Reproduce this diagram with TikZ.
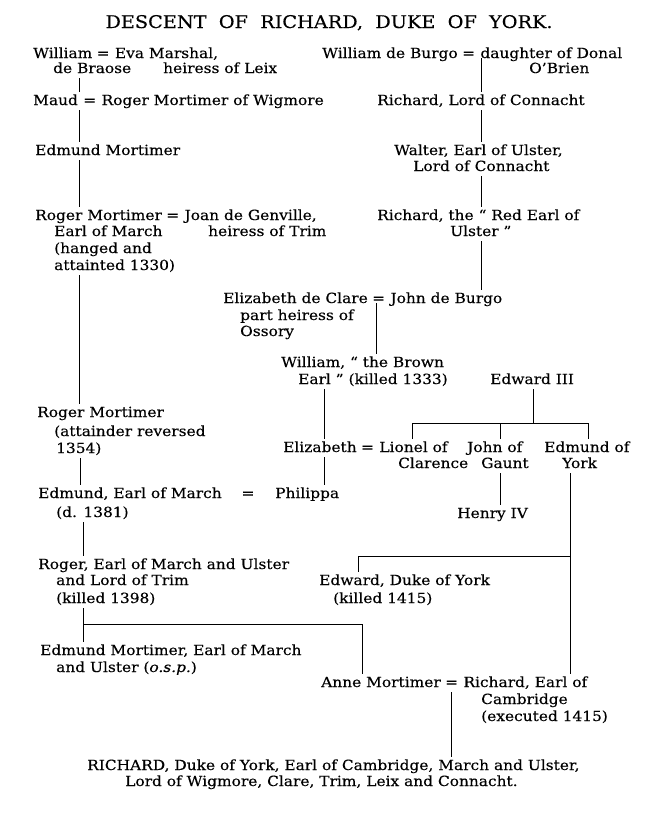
\documentclass[tikz,border=0pt]{standalone}
\usepackage{fontspec}
\setmainfont{DejaVu Serif}[FakeStretch=1.1, FakeBold=0.3]
\usetikzlibrary{calc,positioning}
\tikzset{
  person/.style={ % one printed line of a name
    anchor=base west, inner xsep=0pt, inner ysep=2pt,
    text height=11pt, text depth=3pt,
    font=\fontsize{14}{16}\selectfont
  },
  marr/.style={ % the marriage sign
    anchor=base, inner sep=0pt, text depth=0pt,
    font=\fontsize{14}{16}\selectfont
  },
  descent/.style={ % line of descent
    line width=0.7pt
  }
}

\begin{document}
\begin{tikzpicture}[x=1pt, y=-1pt]
  \useasboundingbox (0,0) rectangle (653,815);
  \fill[white] (0,0) rectangle (653,815);

  \node (title) [anchor=base, font=\fontsize{17.5}{20}\selectfont] at (329,28) {DESCENT\ \ OF\ \ RICHARD,\ \ DUKE\ \ OF\ \ YORK.};

  % Braose and Mortimer
  \node[person] (w_braose) at (33,58) {William};
  \node[marr, base right=4pt of w_braose] (e_braose) {=};
  \node[person, base right=5pt of e_braose] (eva) {Eva Marshal,};
  \node[person] (de_braose) at (53,73) {de Braose};
  \node[person] (eva_leix) at (163,73) {heiress of Leix};
  \node[person] (maud) at (33,105) {Maud};
  \node[marr, base right=5pt of maud] (e_maud) {=};
  \node[person, base right=5pt of e_maud] (roger_w) {Roger Mortimer of Wigmore};
  \node[person] (edmund_m) at (35,155) {Edmund Mortimer};
  \node[person] (roger_1) at (35,220) {Roger Mortimer};
  \node[marr, base right=4pt of roger_1] (e_roger) {=};
  \node[person, base right=5pt of e_roger] (joan) {Joan de Genville,};
  \node[person] (roger_1b) at (54,236) {Earl of March};
  \node[person] (joan_b) at (208,236) {heiress of Trim};
  \node[person] (roger_1c) at (54,253) {(hanged and};
  \node[person] (roger_1d) at (54,270) {attainted 1330)};
  \node[person] (roger_2) at (37,417) {Roger Mortimer};
  \node[person] (roger_2b) at (54,436) {(attainder reversed};
  \node[person] (roger_2c) at (56,453) {1354)};
  \node[person] (edmund_e) at (38,498) {Edmund, Earl of March};
  \node[marr] (e_edmund) at (248,498) {=};
  \node[person] (philippa) at (275,498) {Philippa};
  \node[person] (edmund_eb) at (56,517) {(d. 1381)};
  \node[person] (roger_3) at (38,569) {Roger, Earl of March and Ulster};
  \node[person] (roger_3b) at (56,585) {and Lord of Trim};
  \node[person] (roger_3c) at (56,603) {(killed 1398)};
  \node[person] (edmund_o) at (40,655) {Edmund Mortimer, Earl of March};
  \node[person] (edmund_ob) at (56,672) {and Ulster (\textit{o.s.p.})};

  % de Burgo and the king
  \node[person] (w_burgo) at (322,58) {William de Burgo};
  \node[marr, base right=4pt of w_burgo] (e_burgo) {=};
  \node[person, base right=5pt of e_burgo] (donal) {daughter of Donal};
  \node[person] (donal_b) at (529,73) {O’Brien};
  \node[person] (richard_c) at (377,105) {Richard, Lord of Connacht};
  \node[person] (walter) at (394,155) {Walter, Earl of Ulster,};
  \node[person] (walter_b) at (413,171) {Lord of Connacht};
  \node[person] (richard_r) at (377,220) {Richard, the “ Red Earl of};
  \node[person] (richard_rb) at (450,236) {Ulster ”};
  \node[person] (eliz_clare) at (223,303) {Elizabeth de Clare};
  \node[marr, base right=4pt of eliz_clare] (e_clare) {=};
  \node[person, base right=5pt of e_clare] (john_b) {John de Burgo};
  \node[person] (eliz_clare_b) at (240,320) {part heiress of};
  \node[person] (eliz_clare_c) at (240,336) {Ossory};
  \node[person] (w_brown) at (281,367) {William, “ the Brown};
  \node[person] (w_brown_b) at (298,384) {Earl ” (killed 1333)};
  \node[person] (edward3) at (490,384) {Edward III};
  \node[person] (eliz) at (283,452) {Elizabeth};
  \node[marr, base right=4pt of eliz] (e_eliz) {=};
  \node[person, base right=5pt of e_eliz] (lionel) {Lionel of};
  \node[person] (lionel_b) at (398,468) {Clarence};
  \node[person] (john_g) at (467,452) {John of};
  \node[person] (john_gb) at (481,468) {Gaunt};
  \node[person] (edmund_y) at (544,452) {Edmund of};
  \node[person] (edmund_yb) at (562,468) {York};
  \node[person] (henry4) at (457,518) {Henry IV};
  \node[person] (edward_y) at (319,585) {Edward, Duke of York};
  \node[person] (edward_yb) at (333,603) {(killed 1415)};
  \node[person] (anne) at (321,687) {Anne Mortimer};
  \node[marr, base right=4pt of anne] (e_anne) {=};
  \node[person, base right=5pt of e_anne] (richard_e) {Richard, Earl of};
  \node[person] (richard_eb) at (481,704) {Cambridge};
  \node[person] (richard_ec) at (481,721) {(executed 1415)};
  \node[person] (richard_y) at (87,770) {RICHARD, Duke of York, Earl of Cambridge, March and Ulster,};
  \node[person] (richard_yb) at (125,786) {Lord of Wigmore, Clare, Trim, Leix and Connacht.};

  % columns and bars of the lines
  \coordinate (c_mort) at (79,0);
  \coordinate (c_mort2) at (80,0);
  \coordinate (c_mort3) at (83,0);
  \coordinate (c_burgo) at (481,0);
  \coordinate (c_clare) at (376,0);
  \coordinate (c_eliz) at (324,0);
  \coordinate (c_edw) at (533,0);
  \coordinate (c_lionel) at (412,0);
  \coordinate (c_gaunt) at (500,0);
  \coordinate (c_edmy) at (588,0);
  \coordinate (c_york) at (570,0);
  \coordinate (c_edwy) at (358,0);
  \coordinate (c_anne) at (362,0);
  \coordinate (c_rich) at (451,0);
  \coordinate (bar_e3) at (0,423);
  \coordinate (bar_york) at (0,556);
  \coordinate (bar_roger) at (0,624);

  \draw[descent] (de_braose.south -| c_mort) -- (maud.north -| c_mort);
  \draw[descent] (maud.south -| c_mort) -- (edmund_m.north -| c_mort);
  \draw[descent] (edmund_m.south -| c_mort) -- (roger_1.north -| c_mort);
  \draw[descent] (roger_1d.south -| c_mort) -- (roger_2.north -| c_mort);
  \draw[descent] (roger_2c.south -| c_mort2) -- (edmund_e.north -| c_mort2);
  \draw[descent] (edmund_eb.south -| c_mort3) -- (roger_3.north -| c_mort3);
  \draw[descent] (roger_3c.south -| c_mort3) -- (bar_roger -| c_mort3) -- (bar_roger -| c_anne) -- (anne.north -| c_anne);
  \draw[descent] (bar_roger -| c_mort3) -- (edmund_o.north -| c_mort3);

  \draw[descent] (e_burgo.south -| c_burgo) -- (richard_c.north -| c_burgo);
  \draw[descent] (richard_c.south -| c_burgo) -- (walter.north -| c_burgo);
  \draw[descent] (walter_b.south -| c_burgo) -- (richard_r.north -| c_burgo);
  \draw[descent] (richard_rb.south -| c_burgo) -- (john_b.north -| c_burgo);
  \draw[descent] (e_clare.south -| c_clare) -- (w_brown.north -| c_clare);
  \draw[descent] (w_brown_b.south -| c_eliz) -- (eliz.north -| c_eliz);
  \draw[descent] (edward3.south -| c_edw) -- (bar_e3 -| c_edw);
  \draw[descent] (bar_e3 -| c_lionel) -- (bar_e3 -| c_edmy);
  \foreach \c/\n in {c_lionel/lionel, c_gaunt/john_g, c_edmy/edmund_y}
    \draw[descent] (bar_e3 -| \c) -- (\n.north -| \c);
  \draw[descent] (eliz.south -| c_eliz) -- (philippa.north -| c_eliz);
  \draw[descent] (john_gb.south -| c_gaunt) -- (henry4.north -| c_gaunt);
  \draw[descent] (edmund_yb.south -| c_york) -- (richard_e.north -| c_york);
  \draw[descent] (bar_york -| c_edwy) -- (bar_york -| c_york);
  \draw[descent] (bar_york -| c_edwy) -- (edward_y.north -| c_edwy);
  \draw[descent] (anne.south -| c_rich) -- (richard_y.north -| c_rich);
\end{tikzpicture}
\end{document}
